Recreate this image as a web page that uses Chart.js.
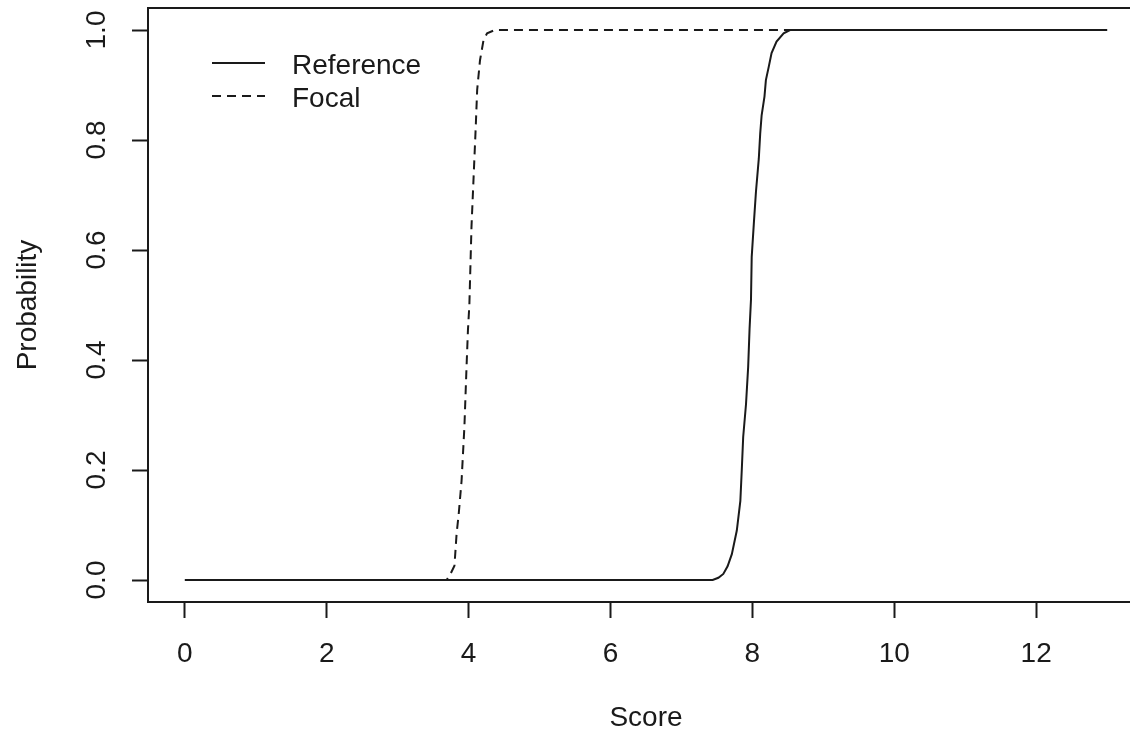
<!DOCTYPE html>
<html>
<head>
<meta charset="utf-8">
<title>Probability by Score</title>
<script src="https://cdn.jsdelivr.net/npm/chart.js@4/dist/chart.umd.min.js"></script>
<style>
  html, body { margin: 0; padding: 0; background: #fff; overflow: hidden; }
</style>
</head>
<body>
<canvas id="myChart" width="1160" height="735"></canvas>
<script>
// values
const refScore = [0, 7.44, 7.52, 7.59, 7.65, 7.71, 7.78, 7.83, 7.85, 7.87, 7.91, 7.94, 7.96, 7.98, 7.99, 8.02, 8.05, 8.09, 8.11, 8.13, 8.17, 8.19, 8.23, 8.27, 8.34, 8.44, 8.53, 13];
const refProb  = [0, 0, 0.004, 0.011, 0.025, 0.047, 0.09, 0.144, 0.20, 0.26, 0.32, 0.387, 0.457, 0.51, 0.587, 0.648, 0.706, 0.766, 0.812, 0.845, 0.879, 0.909, 0.933, 0.958, 0.979, 0.994, 1, 1];
const focScore = [0, 3.69, 3.74, 3.80, 3.83, 3.86, 3.90, 3.94, 3.97, 3.99, 4.01, 4.04, 4.07, 4.10, 4.12, 4.16, 4.21, 4.26, 4.37, 13];
const focProb  = [0, 0, 0.01, 0.026, 0.084, 0.12, 0.18, 0.278, 0.387, 0.454, 0.50, 0.642, 0.733, 0.824, 0.891, 0.945, 0.982, 0.994, 1, 1];
const xTicks = [0, 2, 4, 6, 8, 10, 12];
const yTicks = [0, 0.2, 0.4, 0.6, 0.8, 1.0];
const seriesNames = ['Reference', 'Focal'];

const ink = '#1a1a1a';
const fontFam = "'Liberation Sans', Arial, sans-serif";
const fsize = 28;

function pts(xs, ys) {
  return xs.map((x, i) => ({ x: x, y: ys[i] }));
}

// box round the plot + legend inside it, like base R
const boxAndLegend = {
  id: 'boxAndLegend',
  afterDraw(chart) {
    const c = chart.ctx, a = chart.chartArea;
    c.save();
    c.strokeStyle = ink;
    c.lineWidth = 2;
    c.setLineDash([]);
    c.strokeRect(a.left, a.top, a.right - a.left, a.bottom - a.top);

    c.font = fsize + 'px ' + fontFam;
    c.textBaseline = 'middle';
    c.fillStyle = ink;
    chart.data.datasets.forEach((ds, i) => {
      const y = a.top + 55 + i * 33;
      c.setLineDash(ds.borderDash || []);
      c.lineWidth = ds.borderWidth;
      c.beginPath();
      c.moveTo(a.left + 64, y);
      c.lineTo(a.left + 117, y);
      c.stroke();
      c.fillText(ds.label, a.left + 144, y + 3);
    });
    c.restore();
  }
};

const ctx = document.getElementById('myChart');
new Chart(ctx, {
  type: 'line',
  data: {
    datasets: [{
      label: seriesNames[0],
      data: pts(refScore, refProb),
      borderColor: ink,
      borderWidth: 2,
      pointRadius: 0,
      tension: 0
    }, {
      label: seriesNames[1],
      data: pts(focScore, focProb),
      borderColor: ink,
      borderWidth: 2,
      borderDash: [9, 6],
      pointRadius: 0,
      tension: 0
    }]
  },
  options: {
    responsive: false,
    animation: false,
    devicePixelRatio: 1,
    layout: { padding: { left: 0, top: 8, right: 16, bottom: 0 } },
    plugins: {
      legend: { display: false },
      tooltip: { enabled: false }
    },
    scales: {
      x: {
        type: 'linear',
        min: -0.52,
        max: 13.52,
        afterBuildTicks: s => { s.ticks = xTicks.map(v => ({ value: v })); },
        afterFit: s => { s.height = 133; s.paddingLeft = 0; s.paddingRight = 0; },
        grid: { drawOnChartArea: false, drawTicks: true, tickLength: 16, tickWidth: 2, tickColor: ink },
        border: { display: true, color: ink, width: 2 },
        ticks: {
          color: ink,
          font: { family: fontFam, size: fsize },
          padding: 19,
          maxRotation: 0,
          callback: v => String(v)
        },
        title: {
          display: true,
          text: 'Score',
          color: ink,
          font: { family: fontFam, size: fsize },
          padding: { top: 0, bottom: 0 }
        }
      },
      y: {
        min: -0.04,
        max: 1.04,
        afterBuildTicks: s => { s.ticks = yTicks.map(v => ({ value: v })); },
        afterFit: s => { s.width = 148; s.paddingTop = 0; s.paddingBottom = 0; },
        grid: { drawOnChartArea: false, drawTicks: true, tickLength: 16, tickWidth: 2, tickColor: ink },
        border: { display: true, color: ink, width: 2 },
        ticks: {
          color: ink,
          font: { family: fontFam, size: fsize },
          padding: 15,
          minRotation: 90,
          maxRotation: 90,
          crossAlign: 'center',
          callback: v => v.toFixed(1)
        },
        title: {
          display: true,
          text: 'Probability',
          color: ink,
          font: { family: fontFam, size: fsize },
          padding: { top: 11, bottom: 0 }
        }
      }
    }
  },
  plugins: [boxAndLegend]
});
</script>
</body>
</html>
